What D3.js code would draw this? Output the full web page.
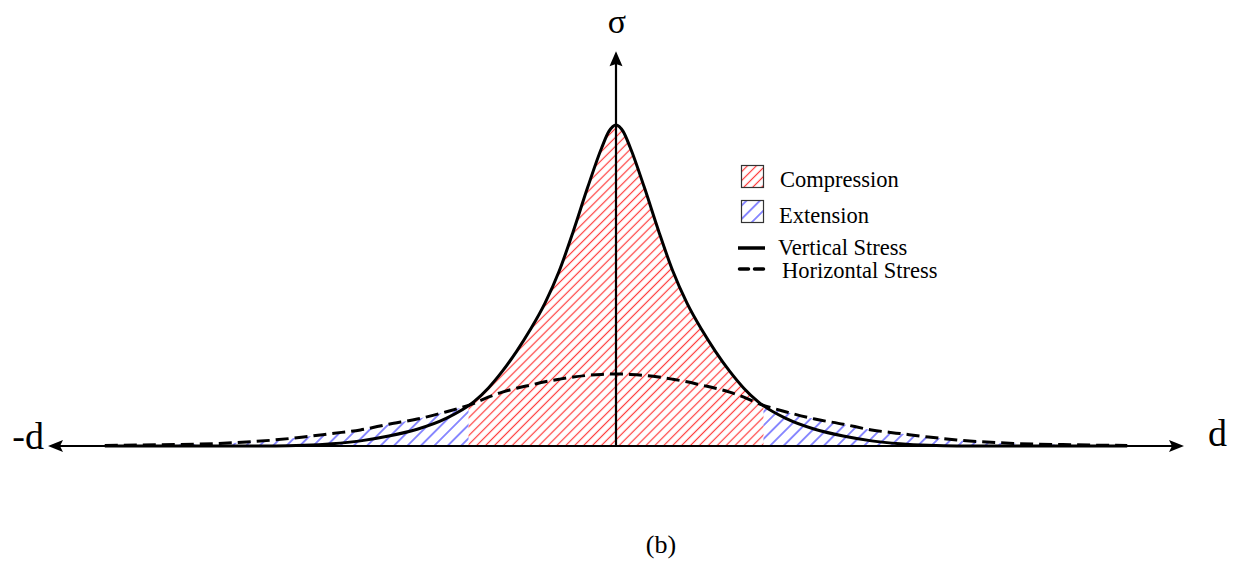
<!DOCTYPE html>
<html>
<head>
<meta charset="utf-8">
<script src="https://cdn.jsdelivr.net/npm/d3@7"></script>
<style>
  html, body { margin: 0; padding: 0; background: #fff; }
  svg { display: block; }
  text { font-family: "Liberation Serif", "Times New Roman", serif; fill: #000; }
</style>
</head>
<body>
<svg id="chart" width="1241" height="563"></svg>
<script>
// Distance from the load centre (d) and the stress profiles along it
const distance = [-9, -8, -7, -6, -5.5, -5, -4.5, -4, -3.5, -3, -2.5, -2.25, -2, -1.75, -1.5, -1.25, -1, -0.75, -0.5, -0.25, -0.125,
                  0, 0.125, 0.25, 0.5, 0.75, 1, 1.25, 1.5, 1.75, 2, 2.25, 2.5, 3, 3.5, 4, 4.5, 5, 5.5, 6, 7, 8, 9];
const verticalStress = [0, 0, 0, 0, 0.02, 0.07, 0.16, 0.31, 0.52, 0.85, 1.38, 1.8, 2.33, 2.95, 3.65, 4.45, 5.45, 6.7, 8.05, 9.3, 9.8,
                        10, 9.8, 9.3, 8.05, 6.7, 5.45, 4.45, 3.65, 2.95, 2.33, 1.8, 1.38, 0.85, 0.52, 0.31, 0.16, 0.07, 0.02, 0, 0, 0, 0];
const horizontalStress = [0.015, 0.04, 0.08, 0.19, 0.28, 0.39, 0.5, 0.68, 0.84, 1.06, 1.33, 1.52, 1.68, 1.8, 1.9, 2.0, 2.08, 2.15, 2.2, 2.23, 2.24,
                          2.24, 2.24, 2.23, 2.2, 2.15, 2.08, 2.0, 1.9, 1.8, 1.68, 1.52, 1.33, 1.06, 0.84, 0.68, 0.5, 0.39, 0.28, 0.19, 0.08, 0.04, 0.015];

// Axis extents and labels
const dExtent = [-10, 10];
const sigmaTop = 12.3;
const axisLabels = { sigma: "σ", negD: "-d", posD: "d" };
const caption = "(b)";

const legendItems = [
  { label: "Compression", kind: "hatch", pattern: "hatch-compression" },
  { label: "Extension", kind: "hatch", pattern: "hatch-extension" },
  { label: "Vertical Stress", kind: "solid" },
  { label: "Horizontal Stress", kind: "dashed" }
];

const svg = d3.select("#chart");

const x = d3.scaleLinear().domain(dExtent).range([48, 1184]);
const y = d3.scaleLinear().domain([0, 10]).range([446, 125]);

const data = distance.map((d, i) => ({ d, v: verticalStress[i], h: horizontalStress[i] }));

// Where the two profiles cross: compression inside, extension outside
function crossings(rows) {
  const out = [];
  for (let i = 1; i < rows.length; i++) {
    const a = rows[i - 1].v - rows[i - 1].h, b = rows[i].v - rows[i].h;
    if ((a < 0 && b >= 0) || (a >= 0 && b < 0)) {
      const t = a / (a - b);
      out.push(rows[i - 1].d + t * (rows[i].d - rows[i - 1].d));
    }
  }
  return out;
}
const cross = crossings(data);
const dLeft = d3.min(cross), dRight = d3.max(cross);

const defs = svg.append("defs");

function hatch(id, color, spacing) {
  const p = defs.append("pattern")
    .attr("id", id)
    .attr("patternUnits", "userSpaceOnUse")
    .attr("width", spacing).attr("height", spacing)
    .attr("patternTransform", "rotate(45)");
  p.append("line")
    .attr("x1", spacing / 2).attr("y1", 0)
    .attr("x2", spacing / 2).attr("y2", spacing)
    .attr("stroke", color).attr("stroke-width", 1.2);
}
hatch("hatch-compression", "#ff3a3a", 6.3);
hatch("hatch-extension", "#3f3fff", 9.5);

// Clip regions for the inner (compression) and outer (extension) parts
defs.append("clipPath").attr("id", "clip-inner")
  .append("rect")
  .attr("x", x(dLeft)).attr("y", 0)
  .attr("width", x(dRight) - x(dLeft)).attr("height", 563);

const outer = defs.append("clipPath").attr("id", "clip-outer");
outer.append("rect").attr("x", 0).attr("y", 0).attr("width", x(dLeft)).attr("height", 563);
outer.append("rect").attr("x", x(dRight)).attr("y", 0).attr("width", 1241 - x(dRight)).attr("height", 563);

const curve = d3.curveMonotoneX;

const areaV = d3.area().x(r => x(r.d)).y0(y(0)).y1(r => y(r.v)).curve(curve);
const areaH = d3.area().x(r => x(r.d)).y0(y(0)).y1(r => y(r.h)).curve(curve);
const lineV = d3.line().x(r => x(r.d)).y(r => y(r.v)).curve(curve);
const lineH = d3.line().x(r => x(r.d)).y(r => y(r.h)).curve(curve);

svg.append("path").datum(data)
  .attr("d", areaV)
  .attr("fill", "url(#hatch-compression)")
  .attr("clip-path", "url(#clip-inner)");

svg.append("path").datum(data)
  .attr("d", areaH)
  .attr("fill", "url(#hatch-extension)")
  .attr("clip-path", "url(#clip-outer)");

// Axes with arrowheads
const axisG = svg.append("g");
const x0 = x(0), yBase = y(0);
const yTopPx = y(sigmaTop);

axisG.append("line")
  .attr("x1", x(dExtent[0]) + 6).attr("x2", x(dExtent[1]) - 6)
  .attr("y1", yBase).attr("y2", yBase)
  .attr("stroke", "#000").attr("stroke-width", 2.2);
axisG.append("line")
  .attr("x1", x0).attr("x2", x0)
  .attr("y1", yBase).attr("y2", yTopPx + 8)
  .attr("stroke", "#000").attr("stroke-width", 2.2);

const ah = 15, aw = 6;
axisG.append("path")
  .attr("d", `M${x(dExtent[0])},${yBase} L${x(dExtent[0]) + ah},${yBase - aw} L${x(dExtent[0]) + ah * 0.8},${yBase} L${x(dExtent[0]) + ah},${yBase + aw} Z`)
  .attr("fill", "#000");
axisG.append("path")
  .attr("d", `M${x(dExtent[1])},${yBase} L${x(dExtent[1]) - ah},${yBase - aw} L${x(dExtent[1]) - ah * 0.8},${yBase} L${x(dExtent[1]) - ah},${yBase + aw} Z`)
  .attr("fill", "#000");
axisG.append("path")
  .attr("d", `M${x0},${yTopPx} L${x0 - aw - 0.5},${yTopPx + ah} L${x0},${yTopPx + ah * 0.85} L${x0 + aw + 0.5},${yTopPx + ah} Z`)
  .attr("fill", "#000");

// Stress curves
svg.append("path").datum(data)
  .attr("d", lineV)
  .attr("fill", "none").attr("stroke", "#000").attr("stroke-width", 3);
svg.append("path").datum(data)
  .attr("d", lineH)
  .attr("fill", "none").attr("stroke", "#000").attr("stroke-width", 3)
  .attr("stroke-dasharray", "13,6");

// Axis labels
svg.append("text").attr("x", x0 + 1).attr("y", 33)
  .attr("text-anchor", "middle").attr("font-size", 34).text(axisLabels.sigma);
svg.append("text").attr("x", 44).attr("y", 449)
  .attr("text-anchor", "end").attr("font-size", 38).text(axisLabels.negD);
svg.append("text").attr("x", 1208).attr("y", 446)
  .attr("text-anchor", "start").attr("font-size", 38).text(axisLabels.posD);

svg.append("text").attr("x", 661).attr("y", 553)
  .attr("text-anchor", "middle").attr("font-size", 26).text(caption);

// Legend
const legend = svg.append("g");
const rowY = [177, 212, 248, 269];
const textY = [187, 223, 255, 278];
const textX = [780, 779, 778, 782];
legendItems.forEach((item, i) => {
  if (item.kind === "hatch") {
    legend.append("rect")
      .attr("x", 741.5).attr("y", rowY[i] - 11.5)
      .attr("width", 22).attr("height", 22)
      .attr("fill", `url(#${item.pattern})`)
      .attr("stroke", "#333").attr("stroke-width", 1.2);
  } else {
    legend.append("line")
      .attr("x1", 738).attr("x2", 765)
      .attr("y1", rowY[i]).attr("y2", rowY[i])
      .attr("stroke", "#000").attr("stroke-width", 3.5)
      .attr("stroke-linecap", item.kind === "dashed" ? "round" : "butt")
      .attr("stroke-dasharray", item.kind === "dashed" ? "9,6" : null)
      .attr("transform", item.kind === "dashed" ? "translate(1.5,0)" : null);
  }
  legend.append("text")
    .attr("x", textX[i]).attr("y", textY[i])
    .attr("font-size", 22.5).text(item.label);
});
</script>
</body>
</html>
